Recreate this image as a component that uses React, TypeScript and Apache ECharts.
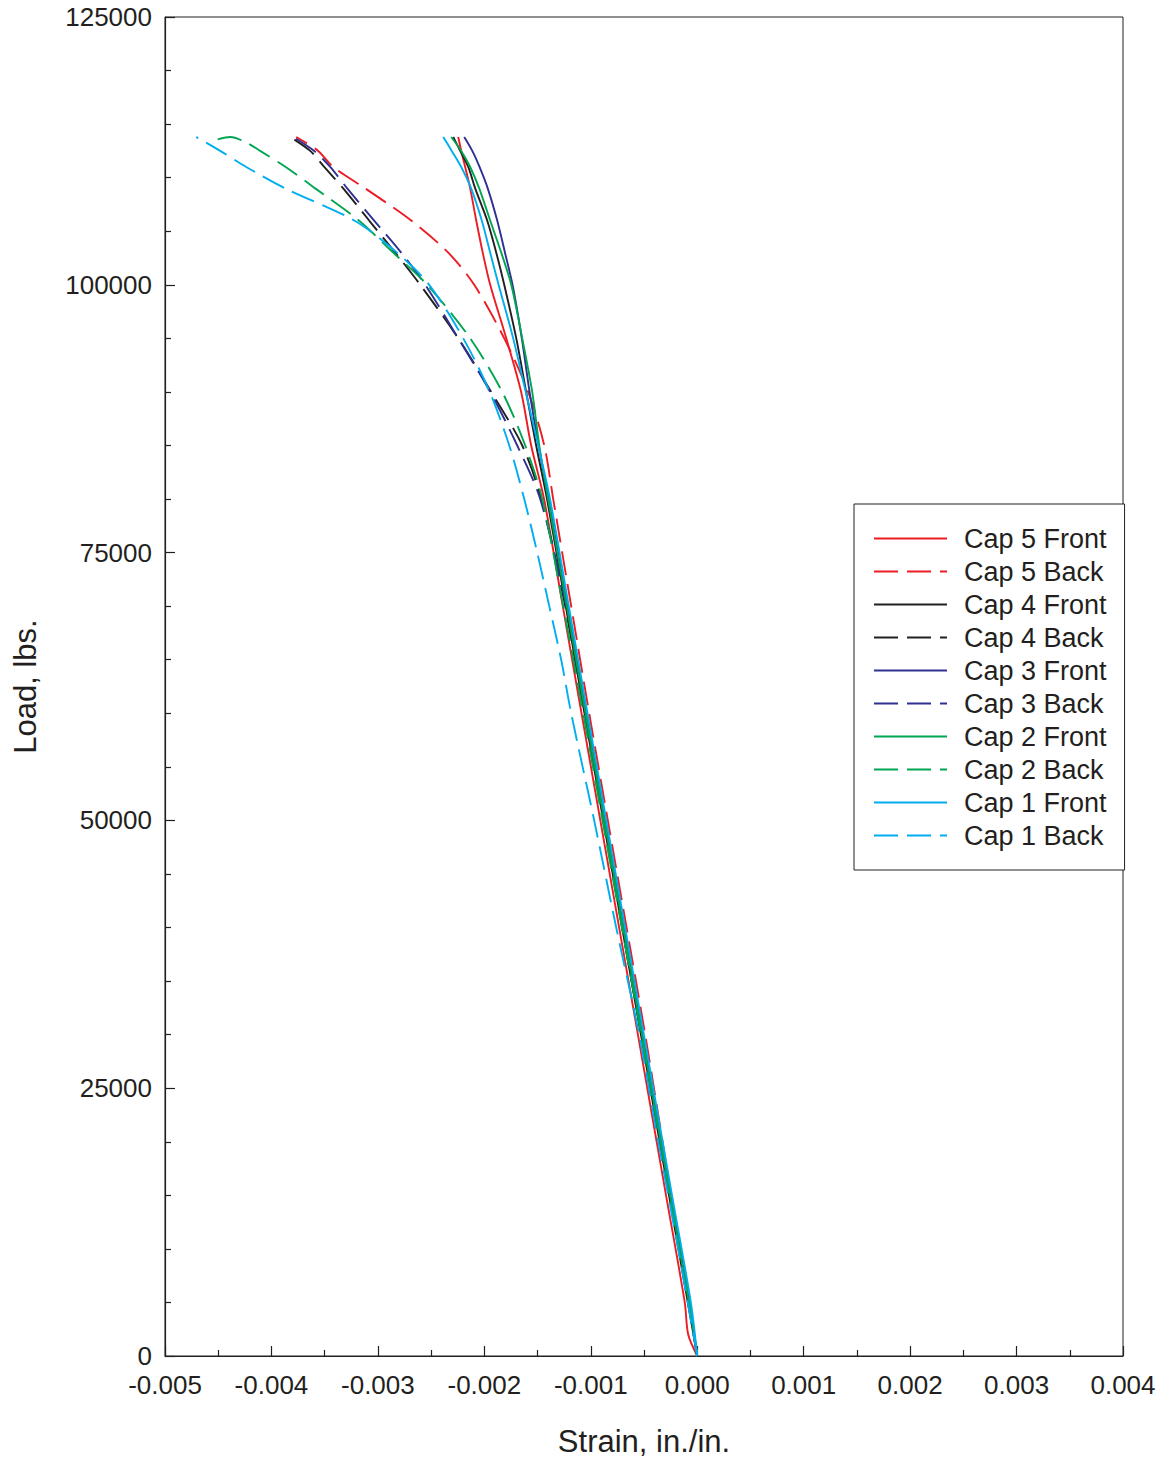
import React, { useEffect, useRef } from "react";
import * as echarts from "echarts";

// [strain (in./in.), load (lbs.)]
const cap5Front: number[][] = [
  [0, 0], [-0.0000846, 2000], [-0.000117, 5000], [-0.000293, 15000], [-0.000557, 30000],
  [-0.000822, 45000], [-0.001087, 60000], [-0.001263, 70000], [-0.001439, 80000],
  [-0.00156, 85000], [-0.001654, 90000], [-0.001794, 95000], [-0.001945, 100000],
  [-0.002015, 103000], [-0.002076, 106000], [-0.002133, 109000], [-0.00218, 111000],
  [-0.002217, 112500], [-0.002245, 113800],
];
const cap5Back: number[][] = [
  [0, 0], [-0.0000752, 5000], [-0.000244, 15000], [-0.000489, 30000], [-0.000752, 45000],
  [-0.001015, 60000], [-0.001184, 70000], [-0.001353, 80000], [-0.001437, 85000],
  [-0.001588, 90000], [-0.001813, 95000], [-0.002095, 100000], [-0.002339, 103000],
  [-0.002687, 106000], [-0.003119, 109000], [-0.00342, 111000], [-0.003561, 112500],
  [-0.003767, 113800],
];
const cap4Front: number[][] = [
  [0, 0], [-0.0000883, 5000], [-0.000265, 15000], [-0.000529, 30000], [-0.000794, 45000],
  [-0.001059, 60000], [-0.001235, 70000], [-0.001411, 80000], [-0.001513, 85000],
  [-0.001607, 90000], [-0.0017, 95000], [-0.001813, 100000], [-0.001888, 103000],
  [-0.001973, 106000], [-0.002086, 109000], [-0.002151, 111000], [-0.002227, 112500],
  [-0.002292, 113800],
];
const cap4Back: number[][] = [
  [0, 0], [-0.0000846, 5000], [-0.000263, 15000], [-0.000526, 30000], [-0.000794, 45000],
  [-0.001062, 60000], [-0.00124, 70000], [-0.001466, 80000], [-0.001644, 85000],
  [-0.001935, 90000], [-0.002245, 95000], [-0.002602, 100000], [-0.002837, 103000],
  [-0.003082, 106000], [-0.003326, 109000], [-0.003504, 111000], [-0.003636, 112500],
  [-0.003824, 113800],
];
const cap3Front: number[][] = [
  [0, 0], [-0.0000742, 5000], [-0.000251, 15000], [-0.000515, 30000], [-0.00078, 45000],
  [-0.001045, 60000], [-0.00122, 70000], [-0.001397, 80000], [-0.00149, 85000],
  [-0.001575, 90000], [-0.001648, 95000], [-0.001735, 100000], [-0.001806, 103000],
  [-0.001879, 106000], [-0.001968, 109000], [-0.002045, 111000], [-0.002113, 112500],
  [-0.002189, 113800],
];
const cap3Back: number[][] = [
  [0, 0], [-0.0000817, 5000], [-0.000258, 15000], [-0.000523, 30000], [-0.000789, 45000],
  [-0.001052, 60000], [-0.001231, 70000], [-0.001475, 80000], [-0.001691, 85000],
  [-0.001945, 90000], [-0.002245, 95000], [-0.002555, 100000], [-0.002781, 103000],
  [-0.003035, 106000], [-0.003288, 109000], [-0.003448, 111000], [-0.003598, 112500],
  [-0.003796, 113800],
];
const cap2Front: number[][] = [
  [0, 0], [-0.0000789, 5000], [-0.000255, 15000], [-0.000519, 30000], [-0.000784, 45000],
  [-0.001049, 60000], [-0.001225, 70000], [-0.001401, 80000], [-0.001484, 85000],
  [-0.00155, 90000], [-0.001644, 95000], [-0.001747, 100000], [-0.001841, 103000],
  [-0.001945, 106000], [-0.002048, 109000], [-0.002133, 111000], [-0.002217, 112500],
  [-0.002311, 113800],
];
const cap2Back: number[][] = [
  [0, 0], [-0.0000752, 5000], [-0.000254, 15000], [-0.000526, 30000], [-0.000799, 45000],
  [-0.001071, 60000], [-0.001259, 70000], [-0.001456, 80000], [-0.001616, 85000],
  [-0.001832, 90000], [-0.002133, 95000], [-0.002537, 100000], [-0.002856, 103000],
  [-0.003179, 106000], [-0.003589, 109000], [-0.003866, 111000], [-0.004106, 112500],
  [-0.004228, 113240], [-0.004387, 113800], [-0.004509, 113570],
];
const cap1Front: number[][] = [
  [0, 0], [-0.0000601, 5000], [-0.000237, 15000], [-0.000501, 30000], [-0.000766, 45000],
  [-0.001031, 60000], [-0.001207, 70000], [-0.001383, 80000], [-0.001494, 85000],
  [-0.001611, 90000], [-0.001729, 95000], [-0.001866, 100000], [-0.001945, 103000],
  [-0.002024, 106000], [-0.002124, 109000], [-0.002217, 111000], [-0.002306, 112500],
  [-0.002386, 113800],
];
const cap1Back: number[][] = [
  [0, 0], [-0.000179, 10000], [-0.000366, 20000], [-0.000545, 30000], [-0.000761, 40000],
  [-0.000968, 50000], [-0.001184, 60000], [-0.001278, 65000], [-0.00139, 70000],
  [-0.001503, 75000], [-0.001625, 80000], [-0.001766, 85000], [-0.001949, 90000],
  [-0.002198, 95000], [-0.002518, 100000], [-0.002819, 103000], [-0.003222, 106000],
  [-0.003871, 109000], [-0.004237, 111000], [-0.004481, 112500], [-0.004707, 113800],
];

const seriesNames = [
  "Cap 5 Front", "Cap 5 Back", "Cap 4 Front", "Cap 4 Back", "Cap 3 Front",
  "Cap 3 Back", "Cap 2 Front", "Cap 2 Back", "Cap 1 Front", "Cap 1 Back",
];
const seriesData = [
  cap5Front, cap5Back, cap4Front, cap4Back, cap3Front,
  cap3Back, cap2Front, cap2Back, cap1Front, cap1Back,
];
const seriesColors = [
  "#ED1C24", "#ED1C24", "#231F20", "#231F20", "#2E3192",
  "#2E3192", "#00A651", "#00A651", "#00AEEF", "#00AEEF",
];

const xMin = -0.005;
const xMax = 0.004;
const xStep = 0.001;
const yMin = 0;
const yMax = 125000;
const yStep = 25000;

const FONT = "'Liberation Sans', Arial, Helvetica, sans-serif";
const INK = "#231F20";

export default function App() {
  const ref = useRef<HTMLDivElement>(null);
  useEffect(() => {
    if (!ref.current) return;
    const chart = echarts.init(ref.current, undefined, { renderer: "svg" });
    const series = seriesNames.map((name, i) => ({
      name,
      type: "line",
      data: seriesData[i],
      showSymbol: false,
      symbol: "none",
      smooth: 0.3,
      lineStyle: {
        color: seriesColors[i],
        width: 1.9,
        type: i % 2 === 1 ? [24, 9] : "solid",
      },
      itemStyle: { color: seriesColors[i] },
    }));
    chart.setOption({
      animation: false,
      backgroundColor: "#fff",
      textStyle: { fontFamily: FONT, color: INK },
      grid: {
        left: 165,
        top: 17,
        right: 42,
        bottom: 104,
        show: true,
        borderColor: INK,
        borderWidth: 1,
        containLabel: false,
      },
      legend: {
        orient: "vertical",
        left: 854,
        top: 504,
        padding: [21, 18, 21, 19],
        itemGap: 6,
        itemWidth: 73,
        itemHeight: 14,
        borderColor: INK,
        borderWidth: 1,
        backgroundColor: "#fff",
        itemStyle: { opacity: 0, borderWidth: 0 },
        textStyle: {
          fontFamily: FONT,
          fontSize: 27,
          color: INK,
          lineHeight: 26,
          padding: [0, 0, 0, 12],
        },
        data: seriesNames,
      },
      xAxis: {
        type: "value",
        min: xMin,
        max: xMax,
        interval: xStep,
        name: "Strain, in./in.",
        nameLocation: "middle",
        nameGap: 70,
        nameTextStyle: { fontFamily: FONT, fontSize: 31, color: INK },
        axisLine: { show: true, onZero: false, lineStyle: { color: INK, width: 1.2 } },
        axisTick: { show: true, inside: true, length: 10, lineStyle: { color: INK, width: 1.2 } },
        minorTick: { show: true, splitNumber: 2, length: 6, lineStyle: { color: INK, width: 1.2 } },
        splitLine: { show: false },
        axisLabel: {
          fontFamily: FONT,
          fontSize: 26,
          color: INK,
          margin: 16,
          formatter: (v: number) => (Math.abs(v) < 1e-9 ? "0.000" : v.toFixed(3)),
        },
      },
      yAxis: {
        type: "value",
        min: yMin,
        max: yMax,
        interval: yStep,
        name: "Load, lbs.",
        nameLocation: "middle",
        nameGap: 124,
        nameRotate: 90,
        nameTextStyle: { fontFamily: FONT, fontSize: 31, color: INK },
        axisLine: { show: true, onZero: false, lineStyle: { color: INK, width: 1.2 } },
        axisTick: { show: true, inside: true, length: 10, lineStyle: { color: INK, width: 1.2 } },
        minorTick: { show: true, splitNumber: 5, length: 6, lineStyle: { color: INK, width: 1.2 } },
        splitLine: { show: false },
        axisLabel: {
          fontFamily: FONT,
          fontSize: 26,
          color: INK,
          margin: 13,
          formatter: (v: number) => String(Math.round(v)),
        },
      },
      series,
    });
    return () => chart.dispose();
  }, []);
  return <div ref={ref} style={{ width: 1165, height: 1462, position: "absolute", left: 0, top: 0 }} />;
}
